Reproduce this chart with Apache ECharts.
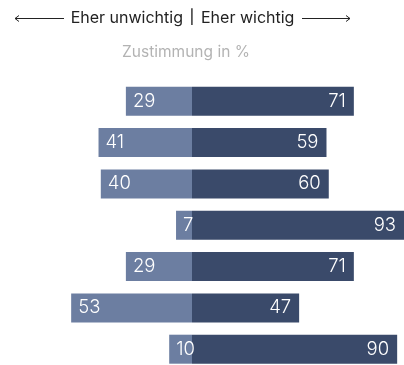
<!DOCTYPE html>
<html><head><meta charset="utf-8">
<script src="https://cdn.jsdelivr.net/npm/echarts@6/dist/echarts.min.js"></script>
<style>html,body{margin:0;padding:0;background:#fff}#c{width:404px;height:365px}</style>
</head><body><div id="c"></div>
<script>
const categories = ['A','B','C','D','E','F','G'];
const unwichtig = [29, 41, 40, 7, 29, 53, 10];
const wichtig = [71, 59, 60, 93, 71, 47, 90];

const chart = echarts.init(document.getElementById('c'), null, {renderer:'canvas'});
const font = 'Inter';
chart.setOption({
  animation: false,
  grid: {left: 0.5, right: 0, top: 101.3, bottom: 15.8, containLabel: false},
  xAxis: {type:'value', min:-84, max:93, show:false},
  yAxis: {type:'category', data: categories, inverse:true, show:false, boundaryGap:false},
  series: [
    {type:'bar', data: unwichtig.map(v => -v), barWidth: 29, barGap:'-100%', clip:false,
     itemStyle:{color:'#6c7ea1'},
     label:{show:true, position:'insideLeft', distance:7, color:'#fff', fontFamily:font, fontWeight:300, fontSize:18.5,
       formatter: p => Math.abs(p.value)}},
    {type:'bar', data: wichtig, barWidth: 29, barGap:'-100%', clip:false,
     itemStyle:{color:'#3a4a6a'},
     label:{show:true, position:'insideRight', distance:8, color:'#fff', fontFamily:font, fontWeight:300, fontSize:18.5}}
  ],
  graphic: [
    {type:'text', x:183, y:18, style:{text:'Eher unwichtig', fill:'#222', font:'16px Inter', textAlign:'right', textVerticalAlign:'middle'}},
    {type:'text', x:192, y:18, style:{text:'|', fill:'#222', font:'500 14px Inter', textAlign:'center', textVerticalAlign:'middle'}},
    {type:'text', x:201, y:18, style:{text:'Eher wichtig', fill:'#222', font:'16px Inter', textAlign:'left', textVerticalAlign:'middle'}},
    {type:'line', shape:{x1:15, y1:18.5, x2:64, y2:18.5}, style:{stroke:'#222', lineWidth:1}},
    {type:'polyline', shape:{points:[[19,15.5],[15,18.5],[19,21.5]]}, style:{stroke:'#222', lineWidth:1, fill:null}},
    {type:'line', shape:{x1:302, y1:18.5, x2:350, y2:18.5}, style:{stroke:'#222', lineWidth:1}},
    {type:'polyline', shape:{points:[[346,15.5],[350,18.5],[346,21.5]]}, style:{stroke:'#222', lineWidth:1, fill:null}},
    {type:'text', x:186, y:52, style:{text:'Zustimmung in %', fill:'#b3b3b3', font:'15.5px Inter', textAlign:'center', textVerticalAlign:'middle'}}
  ]
});
</script></body></html>
